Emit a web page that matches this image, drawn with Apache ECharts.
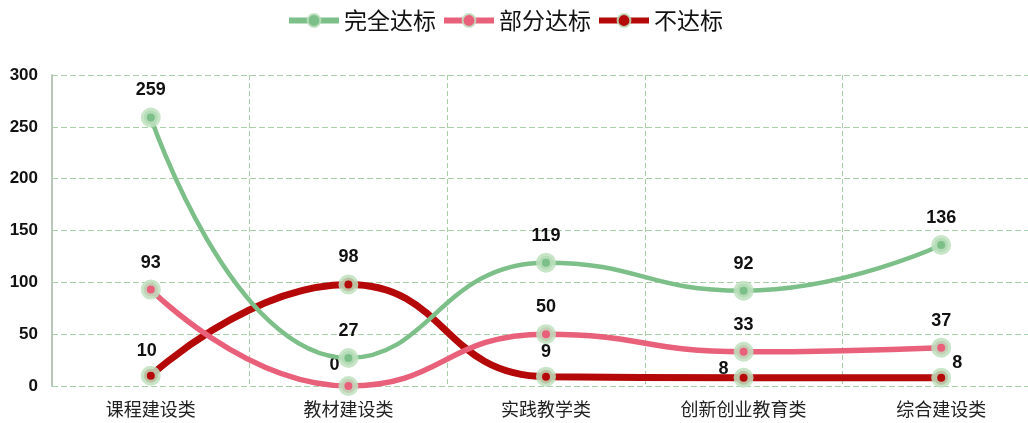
<!DOCTYPE html>
<html><head><meta charset="utf-8">
<script src="https://cdn.jsdelivr.net/npm/echarts@6/dist/echarts.min.js"></script>
<style>html,body{margin:0;padding:0;background:#fff;overflow:hidden}#c{width:1040px;height:423px}</style>
</head><body><div id="c"></div>
<script>
const categories = ['课程建设类','教材建设类','实践教学类','创新创业教育类','综合建设类'];
const seriesNames = ['完全达标','部分达标','不达标'];
const fullyMet = [259, 27, 119, 92, 136];
const partlyMet = [93, 0, 50, 33, 37];
const notMet = [10, 98, 9, 8, 8];
const yTicks = [0, 50, 100, 150, 200, 250, 300];

const colors = ['#7cbf88', '#e9607b', '#b50808'];
const widths = [4.5, 5.5, 7];
// label offsets per series/point (style only)
const labelOffsets = [
  [[0,0],[0,0],[0,0],[0,0],[0,0]],
  [[0,0],[-14,6],[0,0],[0,0],[0,0]],
  [[-4,2],[0,0],[0,2],[-20,18],[16,12]]
];
const allValues = [fullyMet, partlyMet, notMet];

const chart = echarts.init(document.getElementById('c'));
chart.setOption({
  animation: false,
  legend: {
    top: 4, left: 281,
    itemWidth: 50, itemHeight: 16, itemGap: 5,
    lineStyle: {width: 6},
    textStyle: {fontSize: 23, color: '#111', fontFamily: 'Noto Sans CJK SC'},
    data: seriesNames
  },
  grid: {left: 52, top: 75, right: 0, bottom: 37, containLabel: false},
  xAxis: {
    type: 'category', data: categories, boundaryGap: true,
    axisLine: {show: false}, axisTick: {show: false},
    axisLabel: {fontSize: 18, color: '#222', margin: 14, fontFamily: 'Noto Sans CJK SC'},
    splitLine: {show: true, lineStyle: {color: '#a9cfa9', type: [5, 3], width: 1}}
  },
  yAxis: {
    type: 'value', min: yTicks[0], max: yTicks[yTicks.length-1], interval: 50,
    axisLine: {show: true, lineStyle: {color: '#b8c8b8', width: 2}},
    axisTick: {show: false},
    axisLabel: {fontSize: 17, fontWeight: 'bold', color: '#111', margin: 14, fontFamily: 'Liberation Sans'},
    splitLine: {lineStyle: {color: '#a9cfa9', type: [6, 3], width: 1}}
  },
  series: seriesNames.map((name, si) => ({
    name, type: 'line', smooth: 0.5,
    symbol: 'circle', symbolSize: 14,
    lineStyle: {color: colors[si], width: widths[si]},
    itemStyle: {color: colors[si], borderColor: 'rgba(190,225,190,0.85)', borderWidth: 6},
    z: 3 - si + 2,
    label: {show: true, position: 'top', distance: 8, fontSize: 18, fontWeight: 'bold', color: '#111', fontFamily: 'Liberation Sans'},
    data: allValues[si].map((v, i) => ({value: v, label: {offset: labelOffsets[si][i]}}))
  }))
});
</script></body></html>
